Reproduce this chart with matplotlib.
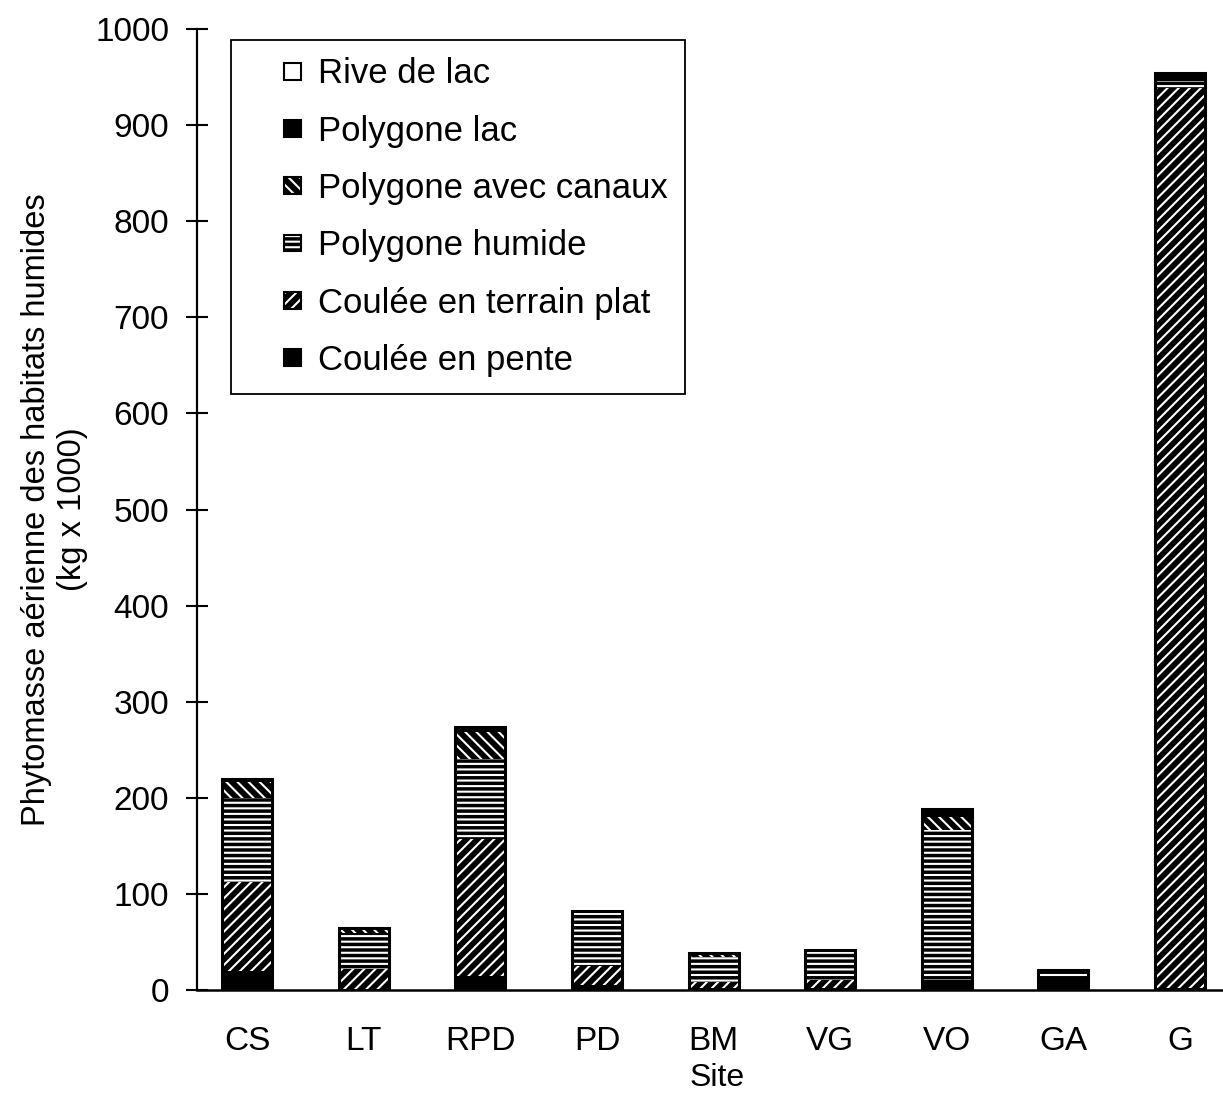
import matplotlib
matplotlib.use("Agg")
import matplotlib.pyplot as plt
import numpy as np
from matplotlib.patches import Patch, Rectangle
from matplotlib.legend_handler import HandlerBase

plt.rcParams['font.family'] = ['Liberation Sans', 'DejaVu Sans']
plt.rcParams['hatch.linewidth'] = 1.5

# Sites and stacked phytomass components (kg x 1000)
sites = ["CS", "LT", "RPD", "PD", "BM", "VG", "VO", "GA", "G"]
coulee_pente   = [20, 0, 15, 5, 2, 2, 10, 12, 2]
coulee_plat    = [92, 22, 142, 20, 6, 8, 0, 0, 937]
polygone_humide = [88, 37, 83, 55, 26, 30, 157, 6, 7]
polygone_canaux = [16, 4, 28, 0, 3, 0, 13, 0, 0]
polygone_lac   = [4, 2, 6, 2, 2, 2, 8, 3, 8]
rive_lac       = [0, 0, 0, 0, 0, 0, 0, 0, 0]

series = [
    ("Coulée en pente", coulee_pente, None),
    ("Coulée en terrain plat", coulee_plat, "///"),
    ("Polygone humide", polygone_humide, "---"),
    ("Polygone avec canaux", polygone_canaux, "\\\\\\"),
    ("Polygone lac", polygone_lac, None),
    ("Rive de lac", rive_lac, "white"),
]

fig = plt.figure(figsize=(12.23, 10.96), dpi=100)
ax = fig.add_axes([197 / 1223, 1 - 990 / 1096, (1222 - 197) / 1223, (990 - 29) / 1096])

x = np.arange(len(sites))
width = 0.43
bottom = np.zeros(len(sites))
for name, vals, style in series:
    vals = np.array(vals, dtype=float)
    if style == "white":
        ax.bar(x, vals, width, bottom=bottom, color="white", linewidth=0)
    elif style is None:
        ax.bar(x, vals, width, bottom=bottom, color="black", linewidth=0)
    else:
        ax.bar(x, vals, width, bottom=bottom, facecolor="black",
               edgecolor="white", hatch=style, linewidth=0)
    bottom += vals

# outline of each stacked bar
ax.bar(x, bottom, width, facecolor="none", edgecolor="black", linewidth=2.2)

ax.set_xlim(-0.43, 8.36)
ax.set_ylim(0, 1000)
ax.set_yticks(np.arange(0, 1001, 100))
ax.set_xticks(x)
ax.set_xticklabels(sites)
ax.tick_params(axis="y", direction="inout", length=16, width=1.5, labelsize=24, pad=12)
ax.tick_params(axis="x", length=0, labelsize=24, pad=26)
for s in ("top", "right"):
    ax.spines[s].set_visible(False)
ax.spines["left"].set_linewidth(1.6)
ax.spines["bottom"].set_linewidth(1.8)

ax.set_ylabel("Phytomasse aérienne des habitats humides\n(kg x 1000)", fontsize=23.5,
              labelpad=5, linespacing=1.2)
ax.set_xlabel("Site", fontsize=23, labelpad=4, x=0.507)


class SquareHandler(HandlerBase):
    def create_artists(self, legend, orig_handle, xdescent, ydescent, width,
                       height, fontsize, trans):
        size = 0.48 * fontsize
        x0 = width - size - xdescent - 2
        y0 = (height - size) / 2 - ydescent
        fc = orig_handle.get_facecolor()
        hatch = orig_handle.get_hatch()
        fill = Rectangle((x0, y0), size, size, facecolor=fc,
                         edgecolor="white" if hatch else fc,
                         hatch=hatch, linewidth=0, transform=trans)
        edge = Rectangle((x0, y0), size, size, facecolor="none",
                         edgecolor="black", linewidth=1.5, transform=trans)
        return [fill, edge]


handles = []
labels = []
for name, vals, style in reversed(series):
    if style == "white":
        h = Patch(facecolor="white")
    elif style is None:
        h = Patch(facecolor="black")
    else:
        h = Patch(facecolor="black", hatch=style)
    handles.append(h)
    labels.append(name)

leg = ax.legend(handles, labels, loc="upper left",
                bbox_to_anchor=(231 / 1223, 1 - 40 / 1096),
                bbox_transform=fig.transFigure,
                fontsize=25, frameon=True, fancybox=False, edgecolor="black",
                framealpha=1, labelspacing=0.7, handlelength=1.6,
                handletextpad=0.4, borderpad=0.5, borderaxespad=0,
                handler_map={Patch: SquareHandler()})
leg.get_frame().set_linewidth(1.3)

fig.savefig("out.png", dpi=100)
